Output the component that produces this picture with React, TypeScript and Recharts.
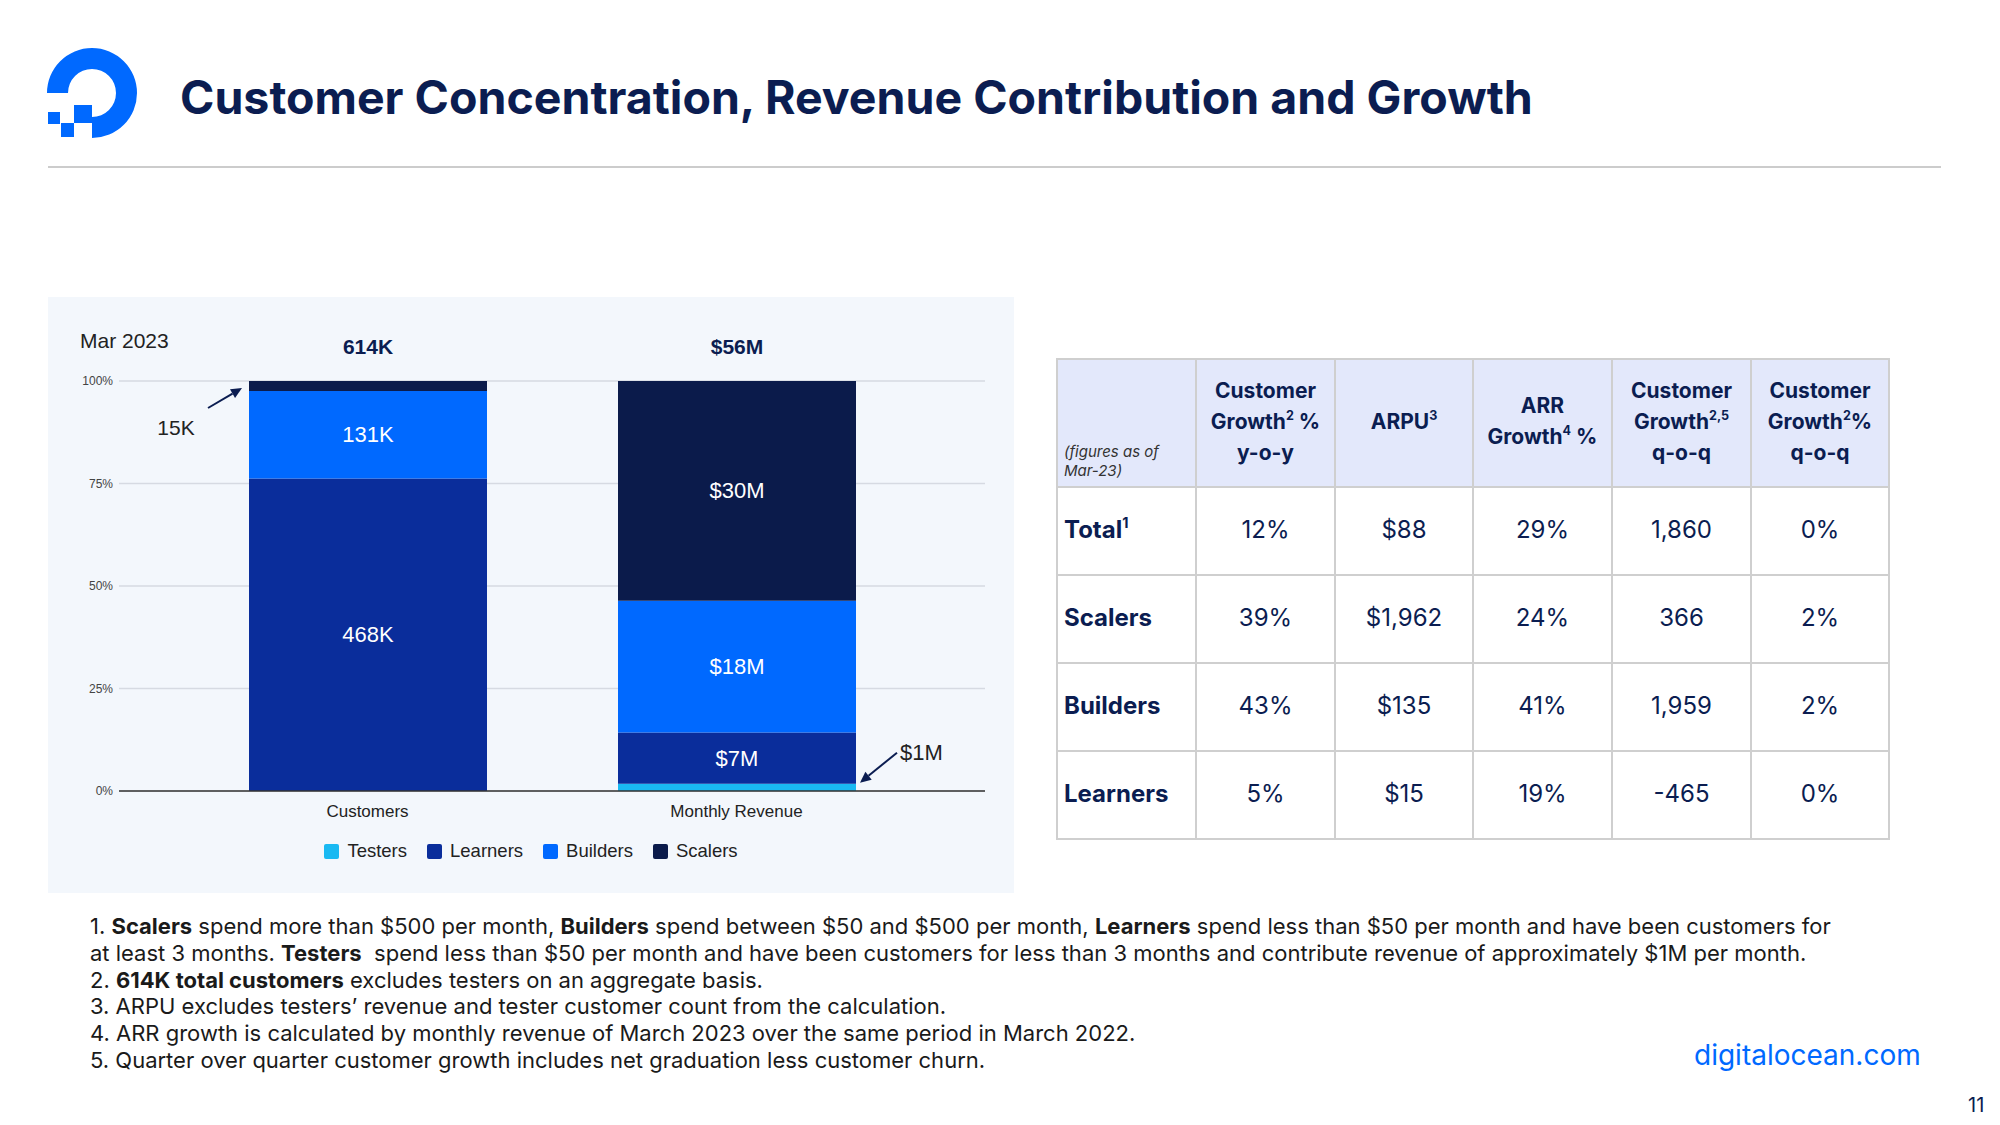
import { Bar, BarChart, CartesianGrid, LabelList, Legend, XAxis, YAxis } from "recharts";

// chart data (customers in thousands, revenue in $ millions)
const categories = ["Customers", "Monthly Revenue"];
const testers = [0, 1];
const learners = [468, 7];
const builders = [131, 18];
const scalers = [15, 30];
const totals = ["614K", "$56M"];
const valuePrefix = ["", "$"];
const valueSuffix = ["K", "M"];
const yTicks = [0, 0.25, 0.5, 0.75, 1];

const SERIES = [
  { key: "testers", name: "Testers", color: "#19b9f2" },
  { key: "learners", name: "Learners", color: "#0a2d9b" },
  { key: "builders", name: "Builders", color: "#0069ff" },
  { key: "scalers", name: "Scalers", color: "#0b1b4b" },
];

// table data
const rowLabels = ["Total", "Scalers", "Builders", "Learners"];
const rowSup = ["1", "", "", ""];
const growthYoy = ["12%", "39%", "43%", "5%"];
const arpu = ["$88", "$1,962", "$135", "$15"];
const arrGrowth = ["29%", "24%", "41%", "19%"];
const growthQoq = ["1,860", "366", "1,959", "-465"];
const growthQoqPct = ["0%", "2%", "2%", "0%"];

const NAVY = "#0b1d51";
const CHART_FONT = "'Liberation Sans', Arial, sans-serif";
const TEXT_FONT = "Inter, 'Noto Sans', sans-serif";
const CHART_W = 966;

const data = categories.map((name, i) => ({
  name,
  testers: testers[i],
  learners: learners[i],
  builders: builders[i],
  scalers: scalers[i],
}));

// which category a bar belongs to (zero-height segments get dropped from the index)
const catOf = (x: number, width: number) => (x + width / 2 < CHART_W / 2 ? 0 : 1);
const fmt = (i: number, v: number) => `${valuePrefix[i]}${v}${valueSuffix[i]}`;

function Arrow({ x1, y1, x2, y2 }: { x1: number; y1: number; x2: number; y2: number }) {
  const a = Math.atan2(y2 - y1, x2 - x1);
  const L = 11;
  const W = 5;
  const bx = x2 - L * Math.cos(a);
  const by = y2 - L * Math.sin(a);
  const p1 = `${bx + W * Math.sin(a)},${by - W * Math.cos(a)}`;
  const p2 = `${bx - W * Math.sin(a)},${by + W * Math.cos(a)}`;
  return (
    <g>
      <line x1={x1} y1={y1} x2={bx} y2={by} stroke={NAVY} strokeWidth={2} />
      <polygon points={`${x2},${y2} ${p1} ${p2}`} fill={NAVY} />
    </g>
  );
}

// value label inside a segment, or outside with an arrow when the segment is thin
const segmentLabel = (props: any) => {
  const { x, y, width, height, value } = props;
  if (!value) return null;
  const cat = catOf(x, width);
  const h = Math.abs(height);
  const text = fmt(cat, value);
  if (h >= 20) {
    return (
      <text
        x={x + width / 2}
        y={y + h / 2}
        fill="#ffffff"
        fontSize={22}
        textAnchor="middle"
        dominantBaseline="central"
      >
        {text}
      </text>
    );
  }
  if (cat === 0) {
    // point to the top-left of the bar
    return (
      <g>
        <Arrow x1={x - 41} y1={y + 27} x2={x - 7} y2={y + 7} />
        <text x={x - 73} y={y + 46} fill="#222" fontSize={21} textAnchor="middle" dominantBaseline="central">
          {text}
        </text>
      </g>
    );
  }
  const x1 = x + width;
  return (
    <g>
      <Arrow x1={x1 + 41} y1={y - 31} x2={x1 + 4} y2={y - 1} />
      <text x={x1 + 44} y={y - 31} fill="#222" fontSize={22} textAnchor="start" dominantBaseline="central">
        {text}
      </text>
    </g>
  );
};

const totalLabel = (props: any) => {
  const { x, y, width } = props;
  return (
    <text
      x={x + width / 2}
      y={y - 35}
      fill={NAVY}
      fontSize={21}
      fontWeight={700}
      textAnchor="middle"
      dominantBaseline="central"
    >
      {totals[catOf(x, width)]}
    </text>
  );
};

const renderLegend = (props: any) => {
  const payload = [...(props.payload || [])].sort(
    (a: any, b: any) =>
      SERIES.findIndex((s) => s.name === a.value) - SERIES.findIndex((s) => s.name === b.value)
  );
  return (
    <div
      style={{
        height: 40,
        display: "flex",
        justifyContent: "center",
        alignItems: "center",
        gap: 20,
        fontFamily: CHART_FONT,
      }}
    >
      {payload.map((p: any) => (
        <div key={p.value} style={{ display: "flex", alignItems: "center", gap: 8 }}>
          <span style={{ width: 15, height: 15, borderRadius: 2, background: p.color, display: "inline-block" }} />
          <span style={{ fontSize: 18.5, color: "#222" }}>{p.value}</span>
        </div>
      ))}
    </div>
  );
};

function Logo() {
  const cx = 92;
  const cy = 93;
  const R = 45;
  const r = 24;
  return (
    <svg width={160} height={160} style={{ position: "absolute", left: 0, top: 0 }}>
      <path
        d={`M ${cx - R} ${cy} A ${R} ${R} 0 1 1 ${cx} ${cy + R} L ${cx} ${cy + r} A ${r} ${r} 0 1 0 ${cx - r} ${cy} Z`}
        fill="#0069ff"
      />
      <rect x={cx - 18} y={105} width={18} height={18} fill="#0069ff" />
      <rect x={cx - 31} y={123} width={13} height={14} fill="#0069ff" />
      <rect x={cx - 44} y={112} width={12} height={12} fill="#0069ff" />
    </svg>
  );
}

const th: React.CSSProperties = {
  border: "2px solid #cfcfcf",
  background: "#e3e8fb",
  color: NAVY,
  fontWeight: 700,
  fontSize: 21,
  lineHeight: "31px",
  textAlign: "center",
  verticalAlign: "middle",
  padding: "0 0 4px 0",
};

const td: React.CSSProperties = {
  border: "2px solid #cfcfcf",
  background: "#ffffff",
  color: NAVY,
  fontSize: 24,
  textAlign: "center",
  verticalAlign: "middle",
  padding: "0 0 4px 0",
  height: 82,
};

const sup: React.CSSProperties = { fontSize: "0.6em", verticalAlign: "0.7em", lineHeight: 0 };

function MetricsTable() {
  const cols = [growthYoy, arpu, arrGrowth, growthQoq, growthQoqPct];
  return (
    <table
      style={{
        position: "absolute",
        left: 1056,
        top: 358,
        width: 832,
        borderCollapse: "collapse",
        tableLayout: "fixed",
        fontFamily: TEXT_FONT,
      }}
    >
      <colgroup>
        <col style={{ width: 139 }} />
        <col style={{ width: 139 }} />
        <col style={{ width: 138 }} />
        <col style={{ width: 139 }} />
        <col style={{ width: 139 }} />
        <col style={{ width: 138 }} />
      </colgroup>
      <thead>
        <tr style={{ height: 128 }}>
          <th style={{ ...th, textAlign: "left", verticalAlign: "bottom", fontWeight: 400, fontStyle: "italic", fontSize: 15, lineHeight: "19px", color: "#333", padding: "0 0 6px 6px" }}>
            (figures as of
            <br />
            Mar-23)
          </th>
          <th style={th}>
            Customer
            <br />
            Growth<span style={sup}>2</span> %
            <br />
            y-o-y
          </th>
          <th style={th}>
            ARPU<span style={sup}>3</span>
          </th>
          <th style={th}>
            ARR
            <br />
            Growth<span style={sup}>4</span> %
          </th>
          <th style={th}>
            Customer
            <br />
            Growth<span style={sup}>2,5</span>
            <br />
            q-o-q
          </th>
          <th style={th}>
            Customer
            <br />
            Growth<span style={sup}>2</span>%
            <br />
            q-o-q
          </th>
        </tr>
      </thead>
      <tbody>
        {rowLabels.map((label, i) => (
          <tr key={label}>
            <td style={{ ...td, textAlign: "left", fontWeight: 700, paddingLeft: 6 }}>
              {label}
              {rowSup[i] && <span style={sup}>{rowSup[i]}</span>}
            </td>
            {cols.map((c, j) => (
              <td key={j} style={td}>
                {c[i]}
              </td>
            ))}
          </tr>
        ))}
      </tbody>
    </table>
  );
}

function Footnotes() {
  const line: React.CSSProperties = { height: 26.8, lineHeight: "26.8px", whiteSpace: "nowrap" };
  return (
    <div style={{ position: "absolute", left: 90, top: 913, fontFamily: TEXT_FONT, fontSize: 22, color: "#1a1a1a" }}>
      <div style={line}>
        1. <b>Scalers</b> spend more than $500 per month, <b>Builders</b> spend between $50 and $500 per month, <b>Learners</b> spend less than $50 per month and have been customers for
      </div>
      <div style={line}>
        at least 3 months. <b>Testers</b>&nbsp; spend less than $50 per month and have been customers for less than 3 months and contribute revenue of approximately $1M per month.
      </div>
      <div style={line}>
        2. <b>614K total customers</b> excludes testers on an aggregate basis.
      </div>
      <div style={line}>3. ARPU excludes testers’ revenue and tester customer count from the calculation.</div>
      <div style={line}>4. ARR growth is calculated by monthly revenue of March 2023 over the same period in March 2022.</div>
      <div style={line}>5. Quarter over quarter customer growth includes net graduation less customer churn.</div>
    </div>
  );
}

export default function App() {
  return (
    <div style={{ position: "absolute", left: 0, top: 0, width: 2000, height: 1125, background: "#ffffff", overflow: "hidden" }}>
      <Logo />
      <div
        style={{
          position: "absolute",
          left: 180,
          top: 70,
          lineHeight: "54px",
          fontFamily: TEXT_FONT,
          fontWeight: 700,
          fontSize: 46.5,
          color: NAVY,
          whiteSpace: "nowrap",
        }}
      >
        Customer Concentration, Revenue Contribution and Growth
      </div>
      <div style={{ position: "absolute", left: 48, top: 166, width: 1893, height: 2, background: "#cccccc" }} />

      <div style={{ position: "absolute", left: 48, top: 297, width: CHART_W, height: 596, background: "#f3f7fc", fontFamily: CHART_FONT }}>
        <div style={{ position: "absolute", left: 32, top: 32, fontSize: 21, lineHeight: "24px", color: "#222" }}>Mar 2023</div>
        <BarChart
          width={CHART_W}
          height={596}
          data={data}
          stackOffset="expand"
          margin={{ top: 84, right: 29, left: 0, bottom: 22 }}
        >
          <CartesianGrid vertical={false} stroke="#d6dae2" strokeWidth={1.5} />
          <XAxis
            dataKey="name"
            axisLine={{ stroke: "#333333", strokeWidth: 1.5 }}
            tickLine={false}
            padding={{ left: 64, right: 64 }}
            tick={{ fontSize: 17, fill: "#222" }}
            tickMargin={8}
            height={40}
          />
          <YAxis
            width={71}
            domain={[0, 1]}
            ticks={yTicks}
            tickFormatter={(v: number) => `${Math.round(v * 100)}%`}
            axisLine={false}
            tickLine={false}
            tickSize={4}
            tickMargin={2}
            tick={{ fontSize: 12, fill: "#444" }}
          />
          <Legend content={renderLegend} verticalAlign="bottom" wrapperStyle={{ left: 0, width: CHART_W }} />
          {SERIES.map((s) => (
            <Bar key={s.key} dataKey={s.key} name={s.name} stackId="a" fill={s.color} barSize={238} isAnimationActive={false}>
              <LabelList dataKey={s.key} content={segmentLabel} />
              {s.key === "scalers" && <LabelList dataKey={s.key} content={totalLabel} />}
            </Bar>
          ))}
        </BarChart>
      </div>

      <MetricsTable />
      <Footnotes />

      <div style={{ position: "absolute", left: 1694, top: 1039, fontFamily: TEXT_FONT, fontSize: 28, lineHeight: "32px", color: "#0069ff" }}>
        digitalocean.com
      </div>
      <div style={{ position: "absolute", left: 1968, top: 1093, fontFamily: TEXT_FONT, fontSize: 20, lineHeight: "24px", color: NAVY }}>
        11
      </div>
    </div>
  );
}
